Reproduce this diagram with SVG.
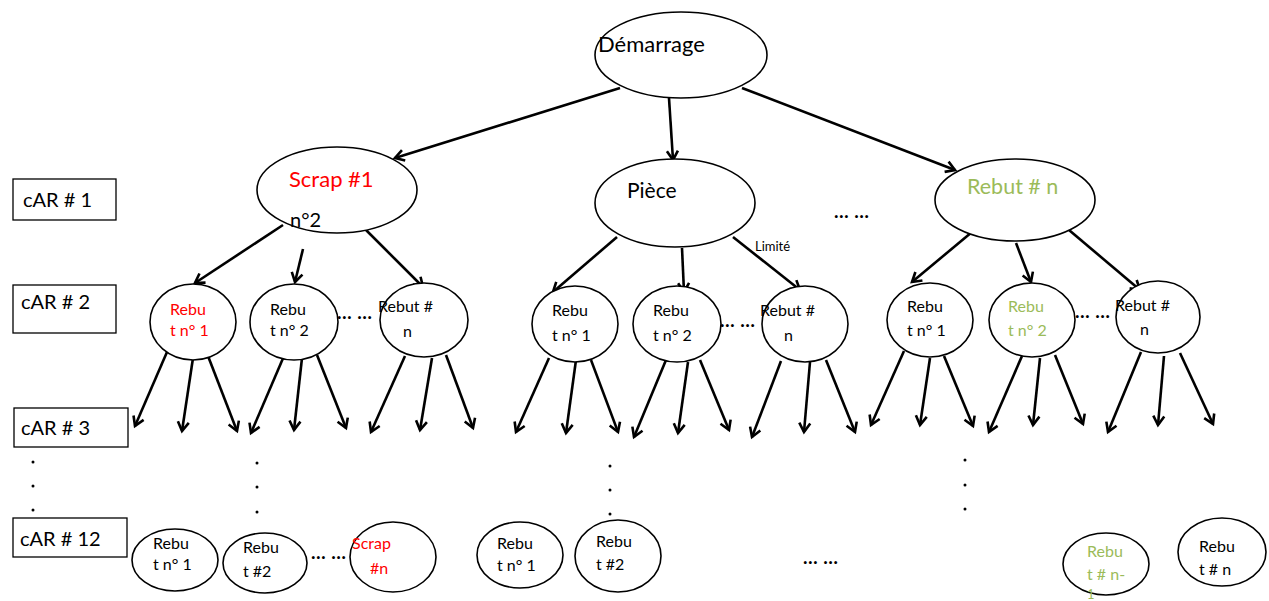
<svg xmlns="http://www.w3.org/2000/svg" width="1269" height="601" viewBox="0 0 1269 601">
<style>
.n{fill:#fff;stroke:#000;stroke-width:1.6}
.b{fill:#fff;stroke:#000;stroke-width:1.3}
.t{font-family:Lato,"Open Sans",sans-serif;fill:#000}
.s{font-size:16px}
.r{fill:#ff0000}
.g{fill:#9bbb59}
.c line{stroke:#000;stroke-width:2.6;marker-end:url(#ah)}
.d{font-family:Lato,sans-serif;font-weight:bold;font-size:19px;letter-spacing:0.5px;fill:#000}
</style>
<defs>
<marker id="ah" markerWidth="14" markerHeight="14" refX="11" refY="7" orient="auto" markerUnits="userSpaceOnUse">
<path d="M2,1.5 L11,7 L2,12.5" fill="none" stroke="#000" stroke-width="2.6"/>
</marker>
</defs>
<rect width="1269" height="601" fill="#fff"/>

<g id="connectors" class="c">
<line x1="620" y1="88" x2="395" y2="158"/>
<line x1="669" y1="98" x2="673" y2="160"/>
<line x1="742" y1="88" x2="955" y2="170"/>
<line x1="283" y1="225" x2="195" y2="283"/>
<line x1="303" y1="249" x2="295" y2="282"/>
<line x1="365" y1="229" x2="423" y2="287"/>
<line x1="617" y1="237" x2="553" y2="292"/>
<line x1="682" y1="248" x2="684" y2="292"/>
<line x1="733" y1="237" x2="800" y2="290"/>
<line x1="972" y1="232" x2="912" y2="282"/>
<line x1="1016" y1="243" x2="1031" y2="282"/>
<line x1="1069" y1="230" x2="1140" y2="290"/>
<line x1="167" y1="352" x2="135" y2="426"/>
<line x1="193" y1="358" x2="182" y2="431"/>
<line x1="208" y1="356" x2="237" y2="431"/>
<line x1="284" y1="356" x2="251" y2="433"/>
<line x1="302" y1="358" x2="294" y2="430"/>
<line x1="317" y1="355" x2="346" y2="428"/>
<line x1="405" y1="356" x2="371" y2="432"/>
<line x1="432" y1="358" x2="420" y2="430"/>
<line x1="446" y1="355" x2="473" y2="428"/>
<line x1="549" y1="358" x2="516" y2="432"/>
<line x1="576" y1="360" x2="566" y2="433"/>
<line x1="591" y1="360" x2="618" y2="432"/>
<line x1="666" y1="360" x2="634" y2="437"/>
<line x1="688" y1="362" x2="678" y2="433"/>
<line x1="700" y1="360" x2="729" y2="430"/>
<line x1="781" y1="361" x2="752" y2="437"/>
<line x1="810" y1="362" x2="804" y2="432"/>
<line x1="826" y1="360" x2="855" y2="432"/>
<line x1="904" y1="351" x2="871" y2="425"/>
<line x1="930" y1="358" x2="920" y2="425"/>
<line x1="944" y1="356" x2="973" y2="426"/>
<line x1="1022" y1="356" x2="989" y2="432"/>
<line x1="1040" y1="358" x2="1033" y2="425"/>
<line x1="1055" y1="355" x2="1083" y2="424"/>
<line x1="1141" y1="352" x2="1108" y2="432"/>
<line x1="1164" y1="356" x2="1158" y2="425"/>
<line x1="1180" y1="353" x2="1213" y2="424"/>
</g>

<g id="labels">
<rect class="b" x="13" y="179" width="103" height="41"/>
<text class="t" x="23" y="207" font-size="20">cAR # 1</text>
<rect class="b" x="13" y="285" width="103" height="48"/>
<text class="t" x="21" y="309" font-size="20">cAR # 2</text>
<rect class="b" x="14" y="408" width="114" height="39"/>
<text class="t" x="21" y="435" font-size="20">cAR # 3</text>
<rect class="b" x="13" y="518" width="114" height="39"/>
<text class="t" x="20" y="546" font-size="20">cAR # 12</text>
<g fill="#000">
<circle cx="33" cy="462" r="1.5"/><circle cx="33" cy="486" r="1.5"/><circle cx="33" cy="510" r="1.5"/>
<circle cx="257" cy="463" r="1.5"/><circle cx="257" cy="487" r="1.5"/><circle cx="257" cy="512" r="1.5"/>
<circle cx="610" cy="466" r="1.5"/><circle cx="610" cy="490" r="1.5"/><circle cx="610" cy="514" r="1.5"/>
<circle cx="965" cy="460" r="1.5"/><circle cx="965" cy="485" r="1.5"/><circle cx="965" cy="509" r="1.5"/>
</g>
<text class="d" x="834" y="218" font-size="24">… …</text>
<text class="d" x="337" y="319">… …</text>
<text class="d" x="720" y="327">… …</text>
<text class="d" x="1075" y="318">… …</text>
<text class="d" x="311" y="559">… …</text>
<text class="d" x="803" y="564" font-size="24">… …</text>
</g>

<g id="start">
<ellipse class="n" cx="681" cy="55" rx="86" ry="43"/>
<text class="t" x="598" y="52" font-size="22">Démarrage</text>
</g>
<g id="scrap1">
<ellipse class="n" cx="337" cy="190" rx="80" ry="43"/>
<text class="t r" x="289" y="187" font-size="22">Scrap #1</text>
<text class="t" x="290" y="227" font-size="20">n°2</text>
</g>
<g id="piece">
<ellipse class="n" cx="675" cy="203" rx="80" ry="44"/>
<text class="t" x="627" y="198" font-size="21">Pièce</text>
<text class="t" x="755" y="251" font-size="13">Limité</text>
</g>
<g id="rebutn">
<ellipse class="n" cx="1015" cy="200" rx="80" ry="41"/>
<text class="t g" x="967" y="194" font-size="21.5">Rebut # n</text>
</g>

<g id="l2a"><ellipse class="n" cx="193" cy="322" rx="43" ry="38"/>
<text class="t s r"><tspan x="170" y="315">Rebu</tspan><tspan x="170" y="336">t n° 1</tspan></text></g>
<g id="l2b"><ellipse class="n" cx="294" cy="322" rx="44" ry="38"/>
<text class="t s"><tspan x="270" y="315">Rebu</tspan><tspan x="270" y="336">t n° 2</tspan></text></g>
<g id="l2c"><ellipse class="n" cx="424" cy="320" rx="44" ry="37"/>
<text class="t s"><tspan x="378" y="312">Rebut #</tspan><tspan x="403" y="337">n</tspan></text></g>
<g id="l2d"><ellipse class="n" cx="575" cy="324" rx="43" ry="38"/>
<text class="t s"><tspan x="552" y="316">Rebu</tspan><tspan x="552" y="341">t n° 1</tspan></text></g>
<g id="l2e"><ellipse class="n" cx="677" cy="324" rx="44" ry="38"/>
<text class="t s"><tspan x="653" y="316">Rebu</tspan><tspan x="653" y="341">t n° 2</tspan></text></g>
<g id="l2f"><ellipse class="n" cx="805" cy="324" rx="43" ry="38"/>
<text class="t s"><tspan x="760" y="316">Rebut #</tspan><tspan x="784" y="341">n</tspan></text></g>
<g id="l2g"><ellipse class="n" cx="930" cy="320" rx="43" ry="37"/>
<text class="t s"><tspan x="907" y="312">Rebu</tspan><tspan x="907" y="336">t n° 1</tspan></text></g>
<g id="l2h"><ellipse class="n" cx="1032" cy="320" rx="43" ry="37"/>
<text class="t s g"><tspan x="1008" y="312">Rebu</tspan><tspan x="1008" y="336">t n° 2</tspan></text></g>
<g id="l2i"><ellipse class="n" cx="1158" cy="317" rx="42" ry="36"/>
<text class="t s"><tspan x="1115" y="311">Rebut #</tspan><tspan x="1140" y="335">n</tspan></text></g>

<g id="l12a"><ellipse class="n" cx="175" cy="560" rx="43" ry="31"/>
<text class="t s"><tspan x="153" y="549">Rebu</tspan><tspan x="153" y="570">t n° 1</tspan></text></g>
<g id="l12b"><ellipse class="n" cx="265" cy="563" rx="42" ry="30"/>
<text class="t s"><tspan x="243" y="553">Rebu</tspan><tspan x="243" y="577">t #2</tspan></text></g>
<g id="l12c"><ellipse class="n" cx="393" cy="557" rx="43" ry="35"/>
<text class="t s r"><tspan x="352" y="549">Scrap</tspan><tspan x="370" y="574">#n</tspan></text></g>
<g id="l12d"><ellipse class="n" cx="520" cy="555" rx="43" ry="33"/>
<text class="t s"><tspan x="497" y="549">Rebu</tspan><tspan x="497" y="571">t n° 1</tspan></text></g>
<g id="l12e"><ellipse class="n" cx="618" cy="556" rx="43" ry="36"/>
<text class="t s"><tspan x="596" y="547">Rebu</tspan><tspan x="596" y="570">t #2</tspan></text></g>
<g id="l12f"><ellipse class="n" cx="1106" cy="564" rx="43" ry="31"/>
<text class="t s g"><tspan x="1087" y="557">Rebu</tspan><tspan x="1087" y="580">t # n-</tspan><tspan x="1087" y="599" font-size="13">1</tspan></text></g>
<g id="l12g"><ellipse class="n" cx="1222" cy="552" rx="44" ry="34"/>
<text class="t s"><tspan x="1199" y="552">Rebu</tspan><tspan x="1199" y="575">t # n</tspan></text></g>
</svg>
